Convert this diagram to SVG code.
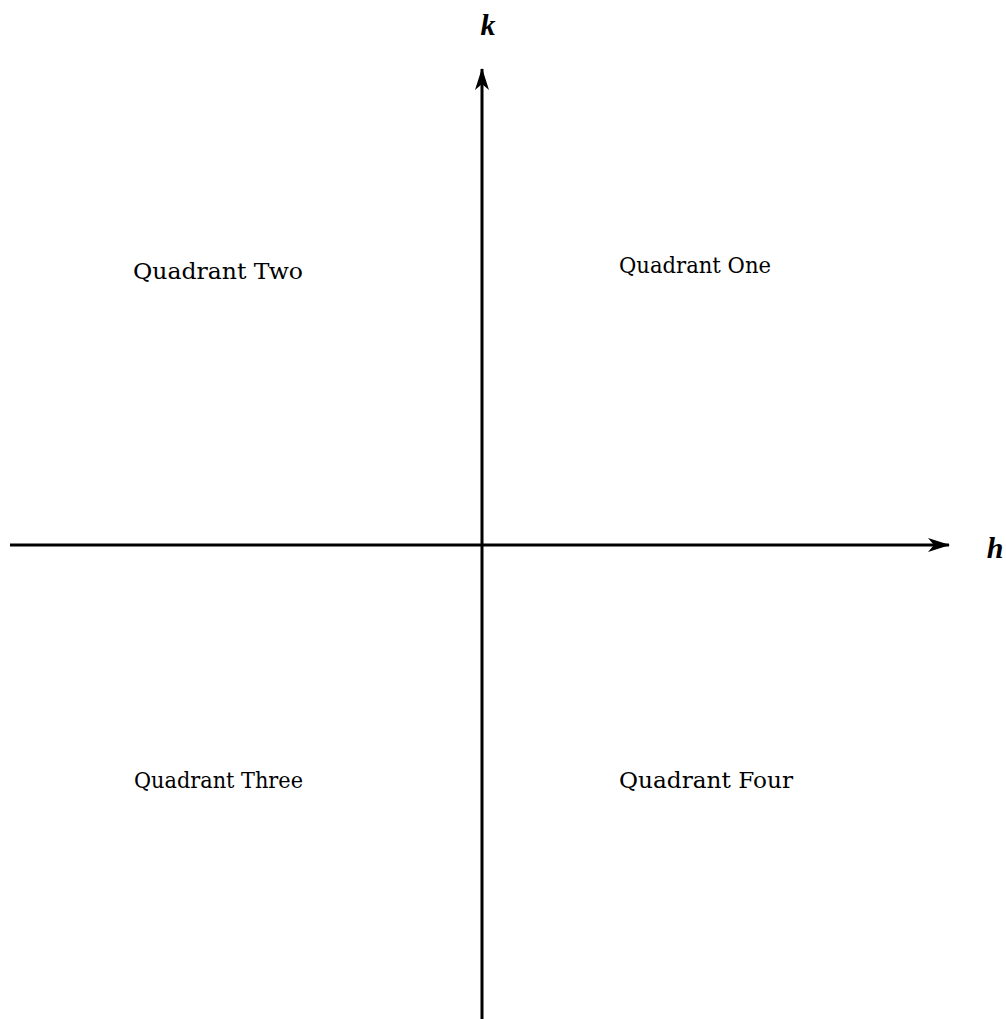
<svg xmlns="http://www.w3.org/2000/svg" width="1006" height="1019" viewBox="0 0 1006 1019">
<style>
.lbl{font-family:"DejaVu Serif","Liberation Serif",serif;font-size:22px;fill:#000}
.var{font-family:"Liberation Serif","Times New Roman",serif;font-size:30px;font-style:italic;font-weight:bold;fill:#000}
.axis{stroke:#000;stroke-width:3;fill:none}
</style>
<defs>
<marker id="ah" viewBox="0 0 22 14" refX="21" refY="7" markerWidth="22" markerHeight="14" markerUnits="userSpaceOnUse" orient="auto">
<path d="M0,0 L22,7 L0,14 L6,7 Z" fill="#000"/>
</marker>
</defs>
<g id="connectors">
<line class="axis" x1="10" y1="545" x2="949" y2="545" marker-end="url(#ah)"/>
<line class="axis" x1="482" y1="1019" x2="482" y2="69" marker-end="url(#ah)"/>
</g>
<g id="label-k"><text class="var" x="488" y="35" text-anchor="middle">k</text></g>
<g id="label-h"><text class="var" x="995" y="558" text-anchor="middle">h</text></g>
<g id="q1"><text class="lbl" x="619" y="273" textLength="152" lengthAdjust="spacingAndGlyphs">Quadrant One</text></g>
<g id="q2"><text class="lbl" x="133" y="279" textLength="170" lengthAdjust="spacingAndGlyphs">Quadrant Two</text></g>
<g id="q3"><text class="lbl" x="134" y="788" textLength="169" lengthAdjust="spacingAndGlyphs">Quadrant Three</text></g>
<g id="q4"><text class="lbl" x="619" y="788" textLength="174" lengthAdjust="spacingAndGlyphs">Quadrant Four</text></g>
</svg>
